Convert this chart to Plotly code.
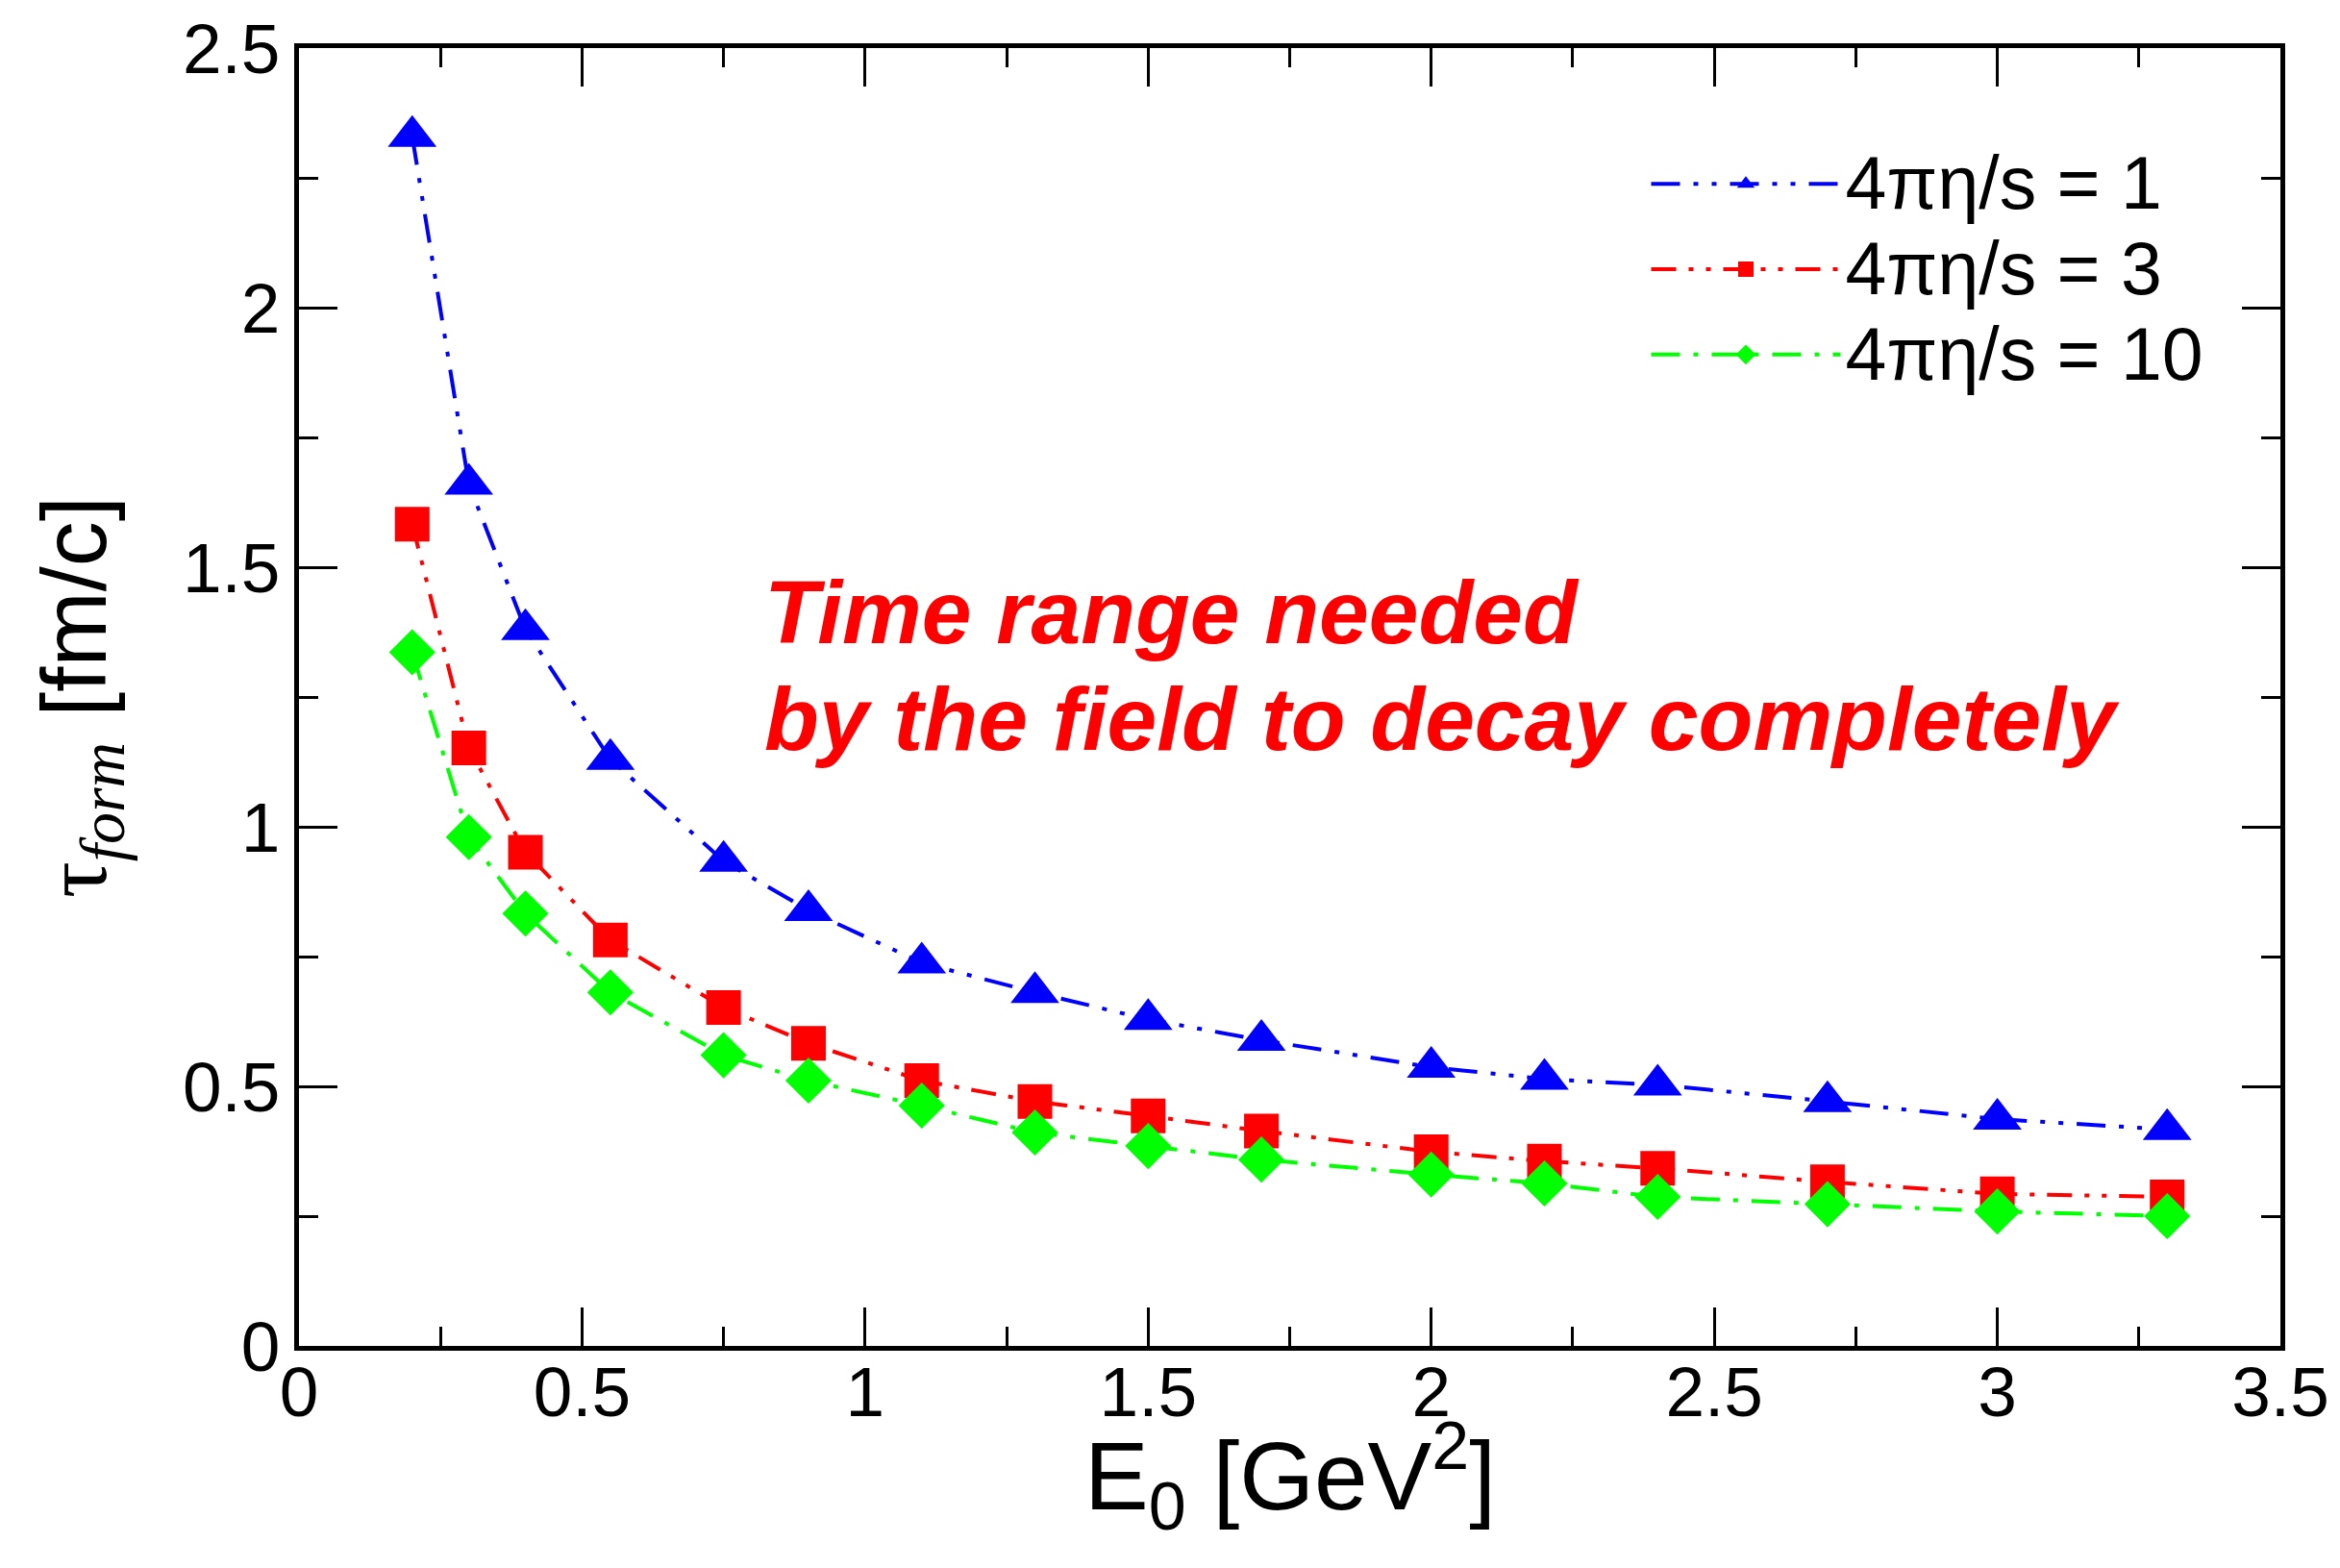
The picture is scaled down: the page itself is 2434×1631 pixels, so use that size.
import plotly.graph_objects as go

E0 = [0.2, 0.3, 0.4, 0.55, 0.75, 0.9, 1.1, 1.3, 1.5, 1.7, 2.0, 2.2, 2.4, 2.7, 3.0, 3.3]
tau_eta1 = [2.33, 1.66, 1.38, 1.13, 0.934, 0.839, 0.738, 0.681, 0.629, 0.589, 0.537, 0.514, 0.503, 0.471, 0.437, 0.417]
tau_eta3 = [1.583, 1.152, 0.951, 0.782, 0.652, 0.583, 0.511, 0.471, 0.443, 0.414, 0.374, 0.356, 0.342, 0.316, 0.293, 0.287]
tau_eta10 = [1.336, 0.98, 0.833, 0.681, 0.560, 0.511, 0.463, 0.411, 0.385, 0.359, 0.330, 0.313, 0.287, 0.273, 0.259, 0.25]

series_names = ["4πη/s = 1", "4πη/s = 3", "4πη/s = 10"]
colors = ["#0000ff", "#ff0000", "#00ff00"]
symbols = ["triangle-up", "square", "diamond"]
msizes = [44, 36, 37]
dashes = ["30px,14px,5px,14px,5px,14px", "26px,13px,5px,13px,5px,13px", "30px,14px,5px,14px"]

fig = go.Figure()
for name, ys, c, s, ms, d in zip(series_names, [tau_eta1, tau_eta3, tau_eta10], colors, symbols, msizes, dashes):
    fig.add_trace(go.Scatter(
        x=E0, y=ys, name='<span style="font-size:77px">' + name + '</span>', mode="lines+markers",
        line=dict(color=c, width=4, dash=d),
        marker=dict(symbol=s, size=ms, color=c, line=dict(width=0)),
    ))

axis_common = dict(
    showline=True, linewidth=5, linecolor="black", mirror="ticks",
    ticks="inside", ticklen=40, tickwidth=3, tickcolor="black",
    showgrid=False, zeroline=False, automargin=False,
    tickfont=dict(family="Liberation Sans, Arial, sans-serif", size=73, color="black"),
)

fig.update_xaxes(range=[0, 3.5], dtick=0.5, tick0=0, ticklabelstandoff=-20,
                 minor=dict(ticks="inside", ticklen=20, tickwidth=3, dtick=0.25, tickcolor="black"),
                 **axis_common)
fig.update_yaxes(range=[0, 2.5], dtick=0.5, tick0=0,
                 minor=dict(ticks="inside", ticklen=20, tickwidth=3, dtick=0.25, tickcolor="black"),
                 title_text='<span style="font-family:Liberation Serif">τ<sub><i>form</i></sub></span> [fm/c]',
                 title_standoff=50,
                 title_font=dict(family="Liberation Sans, Arial, sans-serif", size=94, color="black"),
                 **axis_common)

# x-axis title placed as a paper-anchored annotation (plotly title cannot sit closer)
fig.add_annotation(
    x=0.5, y=-0.10, xref="paper", yref="paper", xanchor="center", yanchor="middle",
    text="E<sub>0</sub> [GeV<sup>2</sup>]", showarrow=False,
    font=dict(family="Liberation Sans, Arial, sans-serif", size=100, color="black"),
)

annot_lines = ["Time range needed", "by the field to decay completely"]
annot_y = [0.605, 0.523]
for txt, yy in zip(annot_lines, annot_y):
    fig.add_annotation(
        x=0.2337, y=yy, xref="paper", yref="paper", xanchor="left", yanchor="top", align="left",
        text="<b><i>" + txt + "</i></b>", showarrow=False,
        font=dict(family="Liberation Sans, Arial, sans-serif", size=93, color="#ff0000"),
    )

fig.update_layout(
    width=2434, height=1631,
    margin=dict(l=303, r=70, t=42, b=239),
    paper_bgcolor="white", plot_bgcolor="white",
    showlegend=True,
    legend=dict(x=0.68, y=0.932, xanchor="left", yanchor="top",
                bgcolor="rgba(0,0,0,0)", itemwidth=197, tracegroupgap=0,
                font=dict(family="Liberation Sans, Arial, sans-serif", size=66, color="black")),
)

fig.write_html("out.html")
